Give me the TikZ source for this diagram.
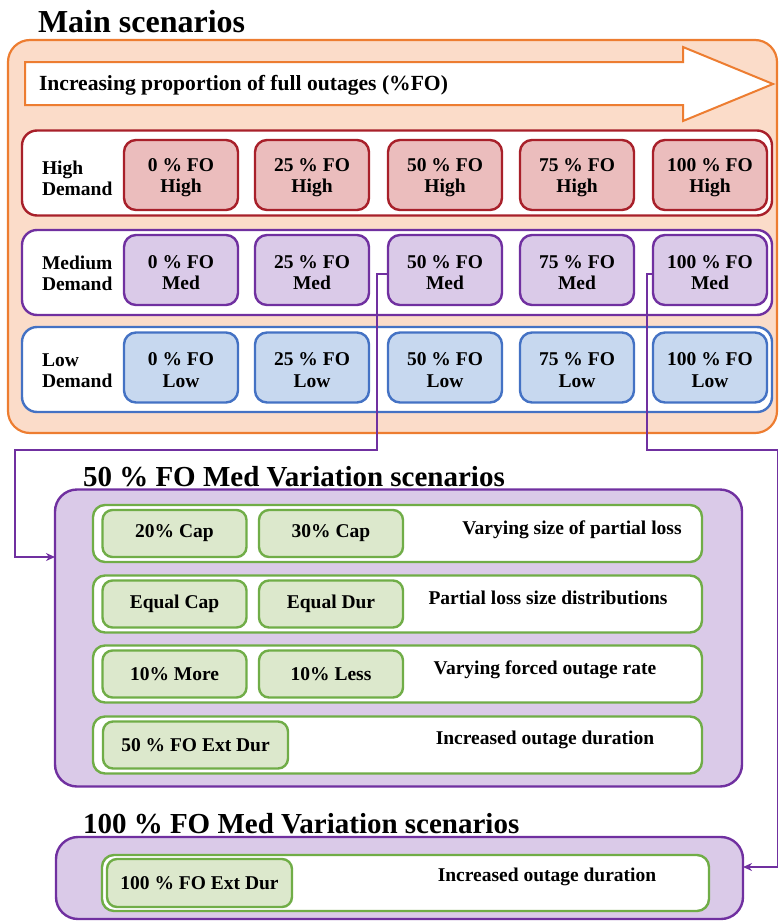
\documentclass[tikz,border=0pt]{standalone}
\usepackage{fontspec}
\setmainfont{Liberation Serif}
\usetikzlibrary{arrows.meta,calc}
\definecolor{orB}{HTML}{ED7D31}
\definecolor{orF}{HTML}{FBDCC9}
\definecolor{redB}{HTML}{A8202A}
\definecolor{redF}{HTML}{EBBDBD}
\definecolor{purB}{HTML}{7030A0}
\definecolor{purF}{HTML}{DACAE8}
\definecolor{bluB}{HTML}{4472C4}
\definecolor{bluF}{HTML}{C7D8EF}
\definecolor{grnB}{HTML}{70AD47}
\definecolor{grnF}{HTML}{DCE8CC}
\begin{document}
\begin{tikzpicture}[x=1pt,y=-1pt,
  every node/.style={font=\bfseries\fontsize{19.5}{21.5}\selectfont, inner sep=0pt, outer sep=0pt, text=black},
  bigtitle/.style={font=\bfseries\fontsize{32}{35}\selectfont, anchor=base west},
  subtitle/.style={font=\bfseries\fontsize{29}{32}\selectfont, anchor=base west},
  cell/.style={rounded corners=12pt, line width=2.4pt, minimum width=114pt, minimum height=70pt, align=center},
  hcell/.style={cell, draw=redB, fill=redF},
  mcell/.style={cell, draw=purB, fill=purF},
  lcell/.style={cell, draw=bluB, fill=bluF},
  celltext/.style={align=center},
  rowbox/.style={rounded corners=15pt, line width=2.4pt, fill=white, minimum width=750pt, minimum height=85pt},
  rowlabel/.style={anchor=west, align=left},
  varbox/.style={draw=purB, fill=purF, line width=2.4pt, rounded corners=22pt},
  vrow/.style={draw=grnB, fill=white, line width=2.4pt, rounded corners=12pt, minimum height=57pt},
  gcell/.style={draw=grnB, fill=grnF, line width=2.4pt, rounded corners=10pt, minimum height=47pt, minimum width=144pt},
  conn/.style={draw=purB, line width=1.8pt, -{Stealth[length=9pt,width=8pt]}}
]
\useasboundingbox (0,0) rectangle (779,921);

% Main scenarios
\node[bigtitle] (maintitle) at (38,32) {Main scenarios};
\node[draw=orB, fill=orF, line width=2.2pt, rounded corners=22pt, minimum width=769pt, minimum height=393pt] (main) at (392.5,236.5) {};

% arrow
\draw[draw=orB, fill=white, line width=2pt, line join=miter]
  (25,62) -- (683,62) -- (683,47) -- (773,84) -- (683,121) -- (683,105) -- (25,105) -- cycle;
\node[anchor=west, font=\bfseries\fontsize{21.6}{24}\selectfont] (arrowtext) at (39,85) {Increasing proportion of full outages (\%FO)};

% rows
\node[rowbox, draw=redB] (hrow) at (397,173) {};
\node[rowbox, draw=purB] (mrow) at (397,272.5) {};
\node[rowbox, draw=bluB] (lrow) at (397,369.5) {};

\node[rowlabel] (hlab) at (42,178.5) {High\\Demand};
\node[rowlabel] (mlab) at (42,273.5) {Medium\\Demand};
\node[rowlabel] (llab) at (42,370.5) {Low\\Demand};

\foreach \p/\x in {0/181,25/312,50/445,75/577,100/710} {
  \node[hcell] (h\p) at (\x,175) {};
  \node[celltext] (ht\p) at (\x,177.5) {\p{} \% FO\\High};
  \node[mcell] (m\p) at (\x,270) {};
  \node[celltext] (mt\p) at (\x,272.5) {\p{} \% FO\\Med};
  \node[lcell] (l\p) at (\x,367.5) {};
  \node[celltext] (lt\p) at (\x,370) {\p{} \% FO\\Low};
}

% 50 % FO variation
\node[subtitle] (v50title) at (83,486) {50 \% FO Med Variation scenarios};
\node[varbox, minimum width=687pt, minimum height=297pt] (v50) at (398.5,638) {};
\node[vrow, minimum width=609pt] (r1) at (397.5,533.5) {};
\node[vrow, minimum width=609pt] (r2) at (397.5,604) {};
\node[vrow, minimum width=609pt] (r3) at (397.5,674) {};
\node[vrow, minimum width=609pt] (r4) at (397.5,745) {};

\node[gcell] (g1a) at (174.5,533.5) {20\% Cap};
\node[gcell] (g1b) at (331,533.5) {30\% Cap};
\node[gcell] (g2a) at (174.5,604) {Equal Cap};
\node[gcell] (g2b) at (331,604) {Equal Dur};
\node[gcell] (g3a) at (174.5,674) {10\% More};
\node[gcell] (g3b) at (331,674) {10\% Less};
\node[gcell, minimum width=185pt] (g4) at (195.5,745) {50 \% FO Ext Dur};

\node (t1) at (572,530) {Varying size of partial loss};
\node (t2) at (548,598) {Partial loss size distributions};
\node (t3) at (545,670) {Varying forced outage rate};
\node (t4) at (545,740) {Increased outage duration};

% 100 % FO variation
\node[subtitle] (v100title) at (83,833) {100 \% FO Med Variation scenarios};
\node[varbox, minimum width=687pt, minimum height=82pt] (v100) at (399.5,878) {};
\node[vrow, minimum width=607pt, minimum height=56pt] (r5) at (405.5,883) {};
\node[gcell, minimum width=185pt, minimum height=48pt] (g5) at (199.5,883) {100 \% FO Ext Dur};
\node (t5) at (547,877) {Increased outage duration};

% connectors
\coordinate (c1a) at (377,274);
\coordinate (c1b) at (377,450);
\coordinate (c1c) at (15,450);
\coordinate (c1d) at (15,557);
\draw[conn] (m50.west |- c1a) -- (c1a) -- (c1b) -- (c1c) -- (c1d) -- (c1d -| v50.west);

\coordinate (c2a) at (647,274);
\coordinate (c2b) at (647,450);
\coordinate (c2c) at (777.5,450);
\coordinate (c2d) at (777.5,867);
\draw[conn] (m100.west |- c2a) -- (c2a) -- (c2b) -- (c2c) -- (c2d) -- (c2d -| v100.east);
\end{tikzpicture}
\end{document}
